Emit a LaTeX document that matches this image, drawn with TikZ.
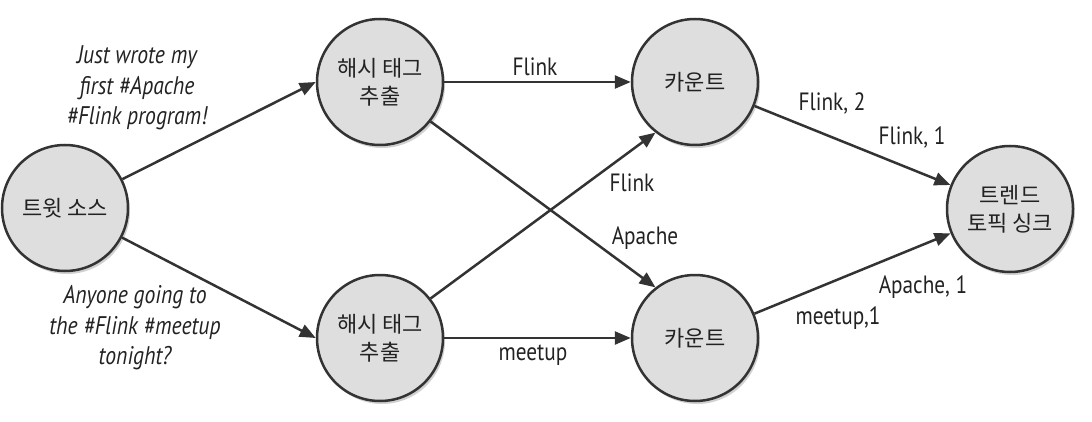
\documentclass[tikz,border=0pt]{standalone}
\usepackage{fontspec}
\setmainfont[FakeStretch=0.85]{PT Sans}
\newfontfamily\kr{Noto Sans CJK KR}
\usetikzlibrary{arrows.meta,shadows}
\definecolor{nodefill}{HTML}{DEDEDE}
\definecolor{edge}{HTML}{333333}
\definecolor{txt}{HTML}{222222}
\begin{document}
\begin{tikzpicture}[x=1pt,y=-1pt,
 circ/.style={circle, draw=edge, line width=2.5pt, fill=nodefill, minimum size=126pt, inner sep=0pt, align=center,
   font=\kr\fontsize{22}{28}\selectfont, text=txt,
   drop shadow={shadow xshift=2pt, shadow yshift=-3pt, opacity=0.3, fill=black!60}},
 arr/.style={draw=edge, line width=2.5pt, -{Triangle[length=16pt,width=13pt]}},
 lbl/.style={font=\fontsize{25}{30}\selectfont, text=txt, inner sep=0pt},
 tweet/.style={font=\itshape\fontsize{25.5}{30.5}\selectfont, align=center, text=txt, inner sep=0pt}]
\useasboundingbox (0,0) rectangle (1092,422);

\node[circ] (src) at (65,208) {트윗 소스};
\node[circ] (h1) at (380,82) {해시 태그\\추출};
\node[circ] (h2) at (380,338) {해시 태그\\추출};
\node[circ] (c1) at (695,82) {카운트};
\node[circ] (c2) at (695,338) {카운트};
\node[circ] (sink) at (1010,209) {트렌드\\토픽 싱크};

\draw[arr] (src) -- (h1.west);
\draw[arr] (src) -- (h2.west);
\draw[arr] (h1) -- (c1);
\draw[arr] (h2) -- (c2);
\draw[arr] (h1.-38) -- (c2.128);
\draw[arr] (h2.38) -- (c1.-128);
\draw[arr] (c1) -- (sink);
\draw[arr] (c2) -- (sink);

\node[tweet] (t1) at (137,88) {Just wrote my\\first \#Apache\\\#Flink program!};
\node[tweet] (t2) at (135,328) {Anyone going to\\the \#Flink \#meetup\\tonight?};

\node[lbl] (l1) at (535,67) {Flink};
\node[lbl] (l2) at (533,355) {meetup};
\node[lbl] (l3) at (632,183) {Flink};
\node[lbl] (l4) at (645,238) {Apache};
\node[lbl] (l5) at (832,103) {Flink, 2};
\node[lbl] (l6) at (912,137) {Flink, 1};
\node[lbl] (l7) at (923,287) {Apache, 1};
\node[lbl] (l8) at (838,318) {meetup,1};
\end{tikzpicture}
\end{document}
